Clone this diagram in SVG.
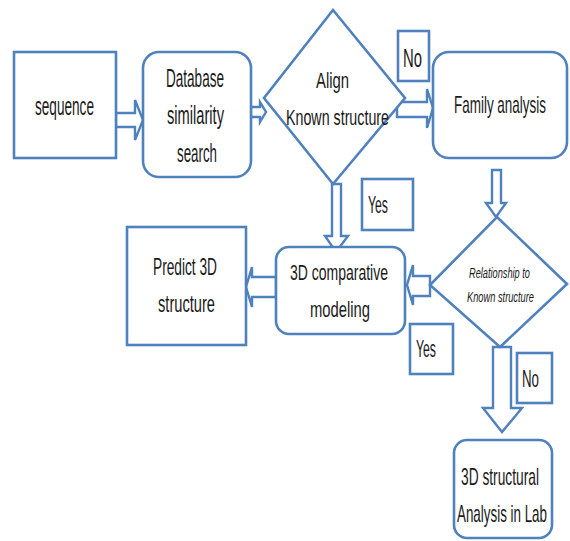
<svg xmlns="http://www.w3.org/2000/svg" width="570" height="541" viewBox="0 0 570 541">
<style>
.box{fill:#fff;stroke:#4f81bd;stroke-width:2.6}
.arr{fill:#fff;stroke:#4f81bd;stroke-width:2.4;stroke-linejoin:miter}
text{font-family:"Liberation Sans",Arial,sans-serif;fill:#1a1a1a}
.xl{font-size:26px}
.b{font-size:25px}
.l{font-size:24px}
.t{font-size:23px}
.m{font-size:22px}
.s{font-size:15px;font-style:italic}
</style>
<rect width="570" height="541" fill="#fff"/>
<g id="connectors">
<polygon class="arr" points="116,113 135,113 135,100 143,120 135,140 135,127 116,127"/>
<polygon class="arr" points="251,107 260,107 260,102 266,112 260,122 260,117 251,117"/>
<polygon class="arr" points="397,102 427,102 427,89 433,108 427,128 427,117 397,117"/>
<polygon class="arr" points="332,184 341,184 341,236 348,236 336,252 325,236 332,236"/>
<polygon class="arr" points="492,170 501,170 501,203 506,203 496,217 486,203 492,203"/>
<polygon class="arr" points="430,276 413,276 413,265 407,285 413,305 413,296 430,296"/>
<polygon class="arr" points="276,277 252,277 252,267 246,287 252,307 252,297 276,297"/>
<polygon class="arr" points="493,347 511,347 511,408 522,408 502,432 483,408 493,408"/>
</g>
<g id="sequence">
<rect class="box" x="14" y="52" width="102" height="106"/>
<text class="b" transform="scale(0.6,1)" x="58.33" y="115" textLength="98.33" lengthAdjust="spacingAndGlyphs">sequence</text>
</g>
<g id="database">
<rect class="box" x="143" y="52" width="108" height="125" rx="16"/>
<text class="xl" transform="scale(0.6,1)" x="276.67" y="87" textLength="96.67" lengthAdjust="spacingAndGlyphs">Database</text>
<text class="xl" transform="scale(0.6,1)" x="278.33" y="124" textLength="95" lengthAdjust="spacingAndGlyphs">similarity</text>
<text class="xl" transform="scale(0.6,1)" x="295" y="162" textLength="66.67" lengthAdjust="spacingAndGlyphs">search</text>
</g>
<g id="align">
<polygon class="box" points="333,10 405,98 333,184 264,98"/>
<text class="m" transform="scale(0.6,1)" x="526.67" y="88" textLength="55" lengthAdjust="spacingAndGlyphs">Align</text>
<text class="m" transform="scale(0.6,1)" x="476.67" y="125" textLength="171.67" lengthAdjust="spacingAndGlyphs">Known structure</text>
</g>
<g id="no-top">
<rect class="box" x="398" y="31" width="31" height="50"/>
<text class="xl" transform="scale(0.6,1)" x="671.67" y="67" textLength="31.67" lengthAdjust="spacingAndGlyphs">No</text>
</g>
<g id="family">
<rect class="box" x="433" y="52" width="134" height="106" rx="16"/>
<text class="t" transform="scale(0.6,1)" x="756.67" y="113" textLength="153.33" lengthAdjust="spacingAndGlyphs">Family analysis</text>
</g>
<g id="yes-top">
<rect class="box" x="362" y="179" width="51" height="51"/>
<text class="l" transform="scale(0.6,1)" x="613.33" y="213" textLength="33.33" lengthAdjust="spacingAndGlyphs">Yes</text>
</g>
<g id="predict">
<rect class="box" x="127" y="227" width="119" height="118"/>
<text class="l" transform="scale(0.6,1)" x="255" y="275" textLength="106.67" lengthAdjust="spacingAndGlyphs">Predict 3D</text>
<text class="l" transform="scale(0.6,1)" x="263.33" y="312" textLength="95" lengthAdjust="spacingAndGlyphs">structure</text>
</g>
<g id="comparative">
<rect class="box" x="276" y="247" width="129" height="87" rx="13"/>
<text class="m" transform="scale(0.6,1)" x="483.33" y="280" textLength="163.33" lengthAdjust="spacingAndGlyphs">3D comparative</text>
<text class="m" transform="scale(0.6,1)" x="516.67" y="317" textLength="100" lengthAdjust="spacingAndGlyphs">modeling</text>
</g>
<g id="relationship">
<polygon class="box" points="497,217 567,284 500,347 430,285"/>
<text class="s" transform="scale(0.6,1)" x="781.67" y="278" textLength="101.67" lengthAdjust="spacingAndGlyphs">Relationship to</text>
<text class="s" transform="scale(0.6,1)" x="778.33" y="302" textLength="111.67" lengthAdjust="spacingAndGlyphs">Known structure</text>
</g>
<g id="yes-bottom">
<rect class="box" x="410" y="324" width="43" height="50"/>
<text class="l" transform="scale(0.6,1)" x="693.33" y="357" textLength="33.33" lengthAdjust="spacingAndGlyphs">Yes</text>
</g>
<g id="no-bottom">
<rect class="box" x="517" y="353" width="35" height="50"/>
<text class="l" transform="scale(0.6,1)" x="870" y="387" textLength="28.33" lengthAdjust="spacingAndGlyphs">No</text>
</g>
<g id="lab">
<rect class="box" x="454" y="440" width="98" height="98" rx="13"/>
<text class="t" transform="scale(0.6,1)" x="768.33" y="485" textLength="130" lengthAdjust="spacingAndGlyphs">3D structural</text>
<text class="t" transform="scale(0.6,1)" x="761.67" y="522" textLength="150" lengthAdjust="spacingAndGlyphs">Analysis in Lab</text>
</g>
</svg>
